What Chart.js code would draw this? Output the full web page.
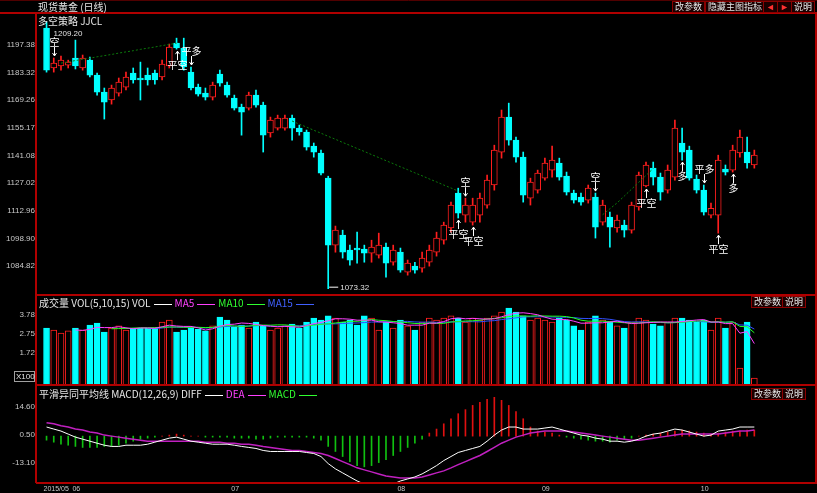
<!DOCTYPE html>
<html>
<head>
<meta charset="utf-8">
<script src="https://cdn.jsdelivr.net/npm/chart.js@4.4.1/dist/chart.umd.min.js"></script>
<style>
  html, body { margin:0; padding:0; background:#000; overflow:hidden; }
  #wrap { position:relative; width:817px; height:493px; }
  #c { position:absolute; left:0; top:0; }
  .t { position:absolute; color:#e6e6e6; font:10px "Noto Sans CJK SC", sans-serif; line-height:11px; white-space:nowrap; }
  .btn { position:absolute; height:10px; border:1px solid #8a0000; background:#1a0000; color:#e6e6e6;
         font:9px "Noto Sans CJK SC", sans-serif; line-height:10px; padding:0 2px; white-space:nowrap; }
  .seg { display:inline-block; width:18px; height:1px; vertical-align:middle; margin:0 3px; }
</style>
</head>
<body>
<div id="wrap">
  <canvas id="c" width="817" height="493"></canvas>
  <div class="t" style="left:38px;top:1px">现货黄金 (日线)</div>
  <div class="t" style="left:38px;top:15px">多空策略 JJCL</div>
  <div class="btn" style="left:672px;top:1px">改参数</div>
  <div class="btn" style="left:705px;top:1px">隐藏主图指标</div>
  <div class="btn" style="left:763px;top:1px;color:#ff3030">◄</div>
  <div class="btn" style="left:777px;top:1px;color:#ff3030">►</div>
  <div class="btn" style="left:791px;top:1px">说明</div>

  <div class="t" style="left:39px;top:297px">成交量 VOL(5,10,15) VOL<span class="seg" style="background:#fff"></span><span style="color:#ff40ff">MA5</span><span class="seg" style="background:#ff40ff"></span><span style="color:#30ff30">MA10</span><span class="seg" style="background:#30ff30"></span><span style="color:#4060ff">MA15</span><span class="seg" style="background:#4060ff"></span></div>
  <div class="btn" style="left:751px;top:296px">改参数</div>
  <div class="btn" style="left:782px;top:296px">说明</div>

  <div class="t" style="left:39px;top:388px">平滑异同平均线 MACD(12,26,9) DIFF<span class="seg" style="background:#fff"></span><span style="color:#ff40ff">DEA</span><span class="seg" style="background:#ff40ff"></span><span style="color:#30ff30">MACD</span><span class="seg" style="background:#30ff30"></span></div>
  <div class="btn" style="left:751px;top:388px">改参数</div>
  <div class="btn" style="left:782px;top:388px">说明</div>
</div>
<script>
// daily candles
const OPEN  = [1206.0,1185.7,1186.7,1187.2,1190.8,1185.7,1189.7,1182.1,1173.4,1169.4,
               1172.9,1176.0,1183.1,1180.6,1182.1,1183.1,1181.1,1186.7,1198.4,1195.9,
               1183.6,1176.0,1172.9,1170.9,1182.6,1177.0,1170.4,1165.8,1165.3,1171.9,
               1166.8,1152.6,1155.1,1155.1,1160.2,1155.1,1153.1,1145.9,1142.4,1129.6,
               1095.5,1100.6,1093.0,1094.0,1093.5,1091.4,1090.4,1094.5,1086.8,1091.9,
               1081.7,1084.8,1083.8,1086.8,1091.9,1098.0,1104.2,1122.0,1110.8,1107.2,
               1110.8,1115.9,1126.1,1142.9,1160.7,1149.0,1140.3,1119.4,1123.5,1129.6,
               1133.7,1137.3,1130.6,1122.0,1120.0,1118.4,1120.0,1107.2,1109.8,1104.2,
               1105.7,1103.1,1114.9,1125.6,1134.7,1130.1,1123.5,1130.1,1147.5,1143.9,
               1129.1,1123.5,1110.8,1110.8,1134.2,1133.7,1142.4,1142.9,1136.3];
const HIGH  = [1209.2,1190.8,1191.8,1189.7,1199.9,1192.3,1191.3,1183.1,1175.5,1177.0,
               1180.6,1183.6,1185.7,1188.7,1185.7,1184.6,1189.7,1197.9,1200.9,1200.9,
               1186.2,1177.5,1175.5,1178.5,1184.6,1178.5,1171.9,1167.3,1173.4,1174.5,
               1168.3,1160.7,1161.7,1161.7,1161.7,1156.6,1154.1,1147.5,1143.9,1130.6,
               1105.2,1103.1,1095.5,1102.1,1095.5,1098.0,1101.6,1096.5,1095.5,1094.0,
               1087.9,1086.8,1091.9,1095.5,1102.1,1107.2,1117.4,1124.5,1119.4,1119.4,
               1122.0,1131.2,1146.4,1164.3,1167.8,1150.5,1142.9,1129.6,1133.7,1139.8,
               1145.9,1139.8,1132.7,1123.5,1122.0,1126.1,1122.0,1118.4,1112.3,1110.8,
               1108.2,1117.4,1132.7,1137.8,1137.8,1132.2,1136.3,1159.2,1155.1,1145.9,
               1131.2,1126.1,1116.9,1141.3,1136.3,1146.4,1154.1,1150.5,1143.9];
const LOW   = [1183.6,1183.6,1184.6,1185.7,1185.2,1184.6,1181.1,1171.9,1159.7,1167.3,
               1171.4,1174.5,1178.0,1169.4,1177.0,1177.5,1179.6,1185.7,1195.3,1184.6,
               1174.5,1171.4,1169.4,1169.4,1176.5,1170.9,1164.3,1151.5,1164.3,1165.8,
               1142.9,1150.5,1154.1,1154.1,1149.0,1151.5,1143.9,1140.3,1131.2,1073.32,
               1091.9,1088.9,1085.3,1086.3,1086.8,1086.8,1088.9,1079.2,1085.3,1081.7,
               1080.2,1081.2,1081.7,1084.8,1089.9,1096.0,1102.1,1109.3,1107.2,1105.7,
               1107.2,1114.3,1123.5,1139.8,1146.4,1137.8,1117.4,1115.9,1122.0,1128.6,
               1130.1,1128.6,1121.0,1116.9,1115.9,1116.9,1099.1,1105.7,1094.5,1102.1,
               1099.6,1101.6,1113.3,1125.1,1126.1,1118.4,1122.0,1128.6,1138.8,1128.6,
               1122.0,1110.8,1109.3,1101.6,1131.2,1132.7,1140.3,1134.7,1134.7];
const CLOSE = [1184.6,1188.2,1189.7,1188.7,1186.7,1190.8,1182.1,1173.4,1168.3,1175.5,
               1178.5,1181.1,1179.6,1179.6,1179.6,1179.6,1187.7,1196.4,1195.9,1186.2,
               1175.5,1172.4,1170.9,1177.0,1178.0,1171.9,1165.3,1163.2,1171.9,1166.8,
               1151.5,1159.2,1160.2,1160.2,1155.1,1153.1,1145.4,1142.9,1132.2,1095.5,
               1103.1,1091.9,1087.9,1093.0,1091.4,1094.5,1095.5,1086.3,1093.0,1082.8,
               1086.3,1082.8,1088.9,1093.0,1099.1,1105.7,1115.9,1111.8,1115.9,1115.9,
               1119.4,1128.6,1143.9,1160.7,1149.0,1140.3,1121.0,1127.6,1132.2,1137.3,
               1138.8,1130.1,1122.5,1118.4,1117.4,1124.5,1104.7,1115.9,1104.7,1108.2,
               1103.1,1115.9,1131.2,1136.3,1130.1,1122.5,1133.7,1155.1,1142.9,1129.6,
               1123.5,1112.3,1114.3,1138.8,1132.7,1143.9,1150.5,1137.3,1141.3];

// trading-system stop line (dotted), null where not drawn
const STOP_LINE = [null,null,1188.2,1188.8,1189.5,1190.1,1190.7,1191.4,1192.0,1192.6,
                   1193.3,1193.9,1194.5,1195.2,1195.8,1196.4,1197.1,1197.7,1198.3,null,
                   null,null,null,null,null,null,null,null,null,null,
                   null,null,null,null,1158.7,1157.1,1155.6,1154.0,1152.5,1150.9,
                   1149.4,1147.8,1146.3,1144.7,1143.2,1141.6,1140.1,1138.5,1137.0,1135.4,
                   1133.9,1132.3,1130.8,1129.2,1127.7,1126.1,1124.6,1123.0,null,null,
                   null,null,null,null,null,null,null,null,null,null,
                   null,null,null,null,null,null,null,1111.0,1114.0,1117.0,
                   1120.5,1124.0,1127.5,1131.0,1134.5,null,null,null,null,null,
                   null,null,null,null,null,null,null,null,null];

const VOLUME = [3.08,2.97,2.81,2.92,3.08,2.97,3.24,3.35,2.86,3.08,
                3.19,2.97,3.08,3.08,3.08,3.08,3.40,3.51,2.86,2.97,
                3.08,3.02,2.92,3.19,3.67,3.51,3.13,3.24,3.08,3.40,
                3.19,2.97,3.08,3.19,3.29,3.08,3.40,3.62,3.51,3.73,
                3.62,3.40,3.51,3.24,3.73,3.62,2.97,3.40,3.08,3.51,
                3.19,2.97,3.40,3.62,3.51,3.62,3.73,3.62,3.40,3.62,
                3.51,3.62,3.73,3.94,4.16,3.94,3.73,3.51,3.62,3.51,
                3.40,3.62,3.51,3.19,2.97,3.40,3.73,3.51,3.40,3.19,
                3.08,3.40,3.62,3.51,3.29,3.19,3.40,3.62,3.62,3.51,
                3.40,3.51,2.97,3.62,3.08,3.40,0.92,3.40,0.38];

const DIFF = [4.5,3.5,2.5,1.0,-0.5,-1.5,-2.5,-3.5,-4.5,-5.1,
              -5.1,-4.5,-4.5,-4.5,-4.0,-3.0,-2.0,-1.0,-0.5,-1.5,
              -2.5,-3.0,-3.5,-4.0,-4.0,-4.0,-4.5,-5.1,-5.6,-6.1,
              -7.1,-7.6,-7.6,-7.6,-7.6,-7.6,-8.1,-8.6,-10.1,-13.6,
              -16.2,-18.2,-20.2,-22.2,-23.7,-24.7,-25.3,-24.7,-23.7,-22.2,
              -21.2,-20.2,-18.7,-16.7,-14.6,-12.1,-10.1,-8.1,-7.1,-6.1,
              -5.1,-2.5,0.5,3.0,4.5,4.5,3.5,3.5,3.5,4.0,
              4.5,3.5,2.5,1.5,0.5,0,-1.0,-1.5,-2.5,-2.5,
              -3.0,-2.5,-1.5,0,1.0,1.5,2.5,3.5,3.0,2.0,
              1.0,0,0.5,2.5,3.0,3.5,4.5,4.5,4.5];
const DEA  = [6.6,6.1,5.1,4.5,3.5,3.0,2.0,1.5,0.5,0,
              -0.5,-1.0,-1.5,-2.0,-2.5,-2.5,-2.5,-2.5,-2.5,-2.5,
              -2.5,-2.5,-3.0,-3.0,-3.0,-3.5,-3.5,-4.0,-4.0,-4.5,
              -5.1,-5.6,-6.1,-6.6,-7.1,-7.1,-7.6,-8.1,-8.6,-9.6,
              -11.1,-12.6,-14.1,-15.7,-16.7,-17.7,-18.7,-19.7,-20.2,-20.7,
              -20.7,-20.7,-20.2,-19.2,-18.2,-17.2,-15.7,-14.1,-12.6,-11.1,
              -9.6,-7.6,-5.6,-3.5,-2.0,-0.5,0.5,1.5,2.0,2.5,
              2.5,2.5,2.5,2.0,1.5,1.0,0.5,0,-0.5,-1.0,
              -1.5,-2.0,-2.0,-1.5,-1.0,-0.5,0,0.5,1.0,1.0,
              1.0,1.0,1.0,1.0,1.5,2.0,2.5,2.5,3.0];
const MACD = [-2.0,-3.0,-4.0,-4.5,-5.1,-5.6,-5.6,-5.6,-5.1,-5.1,
              -4.5,-3.5,-2.5,-1.5,-1.0,-0.5,0,0.5,1.0,0.5,
              0,0,-0.5,-0.5,-0.5,-0.5,-1.0,-1.0,-1.0,-1.5,
              -1.5,-1.0,-0.5,-0.5,-0.5,-0.5,-0.5,-1.0,-2.0,-5.1,
              -7.6,-10.1,-12.6,-14.6,-15.2,-14.6,-13.1,-11.6,-9.6,-7.6,
              -5.6,-3.5,-1.5,1.5,3.5,6.1,8.6,11.1,13.1,15.2,
              16.7,18.2,19.2,17.7,15.2,12.1,8.6,4.5,2.5,2.0,
              1.5,0.5,-0.5,-1.0,-1.5,-2.0,-2.5,-2.5,-3.0,-2.0,
              -1.5,-1.0,0,0.5,1.0,1.5,2.0,2.5,3.0,2.5,
              2.0,1.5,1.0,1.5,2.0,2.5,2.5,3.0,3.0];

// axis labels
const PRICE_TICKS = [1197.38,1183.32,1169.26,1155.17,1141.08,1127.02,1112.96,1098.90,1084.82];
const VOL_TICKS   = [3.78,2.75,1.72];
const MACD_TICKS  = [14.60,0.50,-13.10];
const MONTH_STARTS = [0,4,26,49,69,91];
const MONTH_LABELS = ['2015/05','06','07','08','09','10'];

// buy / sell markers: candle index, text, side of candle
const SIGNALS = [
  {i:1,  text:'空',   side:'above'},
  {i:18, text:'平空', side:'below'},
  {i:20, text:'平多', side:'above'},
  {i:58, text:'空',   side:'above'},
  {i:57, text:'平空', side:'below'},
  {i:59, text:'平空', side:'below'},
  {i:76, text:'空',   side:'above'},
  {i:83, text:'平空', side:'below'},
  {i:88, text:'多',   side:'below'},
  {i:91, text:'平多', side:'above'},
  {i:93, text:'平空', side:'below'},
  {i:95, text:'多',   side:'below'},
];

const RED = '#ff1e1e', CYAN = '#00ffff', MAGENTA = '#ff40ff', GREEN = '#20ff20', BLUE = '#3050ff';
const isUp = i => CLOSE[i] >= OPEN[i];
const idx = CLOSE.map((_, i) => i);

function ma(arr, n) {
  return arr.map((_, i) => {
    if (i < n - 1) return null;
    let s = 0;
    for (let k = i - n + 1; k <= i; k++) s += arr[k];
    return s / n;
  });
}

const fixed = (arr) => (scale) => { scale.ticks = arr.map(v => ({value:v})); };
// stacked panes: the last one declared ends up on top
const yAxis = (weight, min, max, ticks) => ({
  type:'linear', position:'left', stack:'panes', stackWeight:weight, min, max,
  grid:{display:false, drawTicks:false}, border:{display:false},
  ticks:{color:'#c8c8c8', font:{family:'Liberation Sans', size:8}, padding:2, autoSkip:false,
         callback:v => Number(v).toFixed(2)},
  afterBuildTicks: fixed(ticks),
  afterFit: s => { s.width = 37; }
});

const frame = {
  id:'frame',
  afterDraw(chart) {
    const {ctx, chartArea:a, scales} = chart;
    ctx.save();
    ctx.strokeStyle = '#b00000';
    ctx.lineWidth = 2;
    ctx.beginPath();
    ctx.moveTo(0, 13); ctx.lineTo(chart.width, 13);
    ctx.moveTo(a.left - 1, 13); ctx.lineTo(a.left - 1, a.bottom);
    ctx.moveTo(a.right + 1, 13); ctx.lineTo(a.right + 1, a.bottom);
    [scales.yv.top, scales.ym.top, a.bottom].forEach(y => { ctx.moveTo(a.left - 1, y); ctx.lineTo(chart.width, y); });
    ctx.stroke();
    ctx.strokeStyle = '#500000'; ctx.lineWidth = 1;
    ctx.beginPath(); ctx.moveTo(0, 0.5); ctx.lineTo(chart.width, 0.5); ctx.stroke();
    ctx.restore();
  }
};

const marks = {
  id:'marks',
  afterDatasetsDraw(chart) {
    const {ctx, scales:{x, y}} = chart;
    ctx.save();
    ctx.fillStyle = '#ffffff';
    ctx.strokeStyle = '#ffffff';
    ctx.lineWidth = 1;
    ctx.font = '10px "Noto Sans CJK SC"';
    ctx.textAlign = 'center';
    SIGNALS.forEach(s => {
      const px = Math.round(x.getPixelForValue(s.i)) + 0.5;
      if (s.side === 'below') {
        const py = y.getPixelForValue(LOW[s.i]);
        ctx.beginPath(); ctx.moveTo(px, py + 2); ctx.lineTo(px, py + 11); ctx.stroke();
        ctx.beginPath(); ctx.moveTo(px - 2, py + 5); ctx.lineTo(px, py + 2); ctx.lineTo(px + 2, py + 5); ctx.stroke();
        ctx.textBaseline = 'top';
        ctx.fillText(s.text, px, py + 11);
      } else {
        const py = y.getPixelForValue(HIGH[s.i]);
        ctx.beginPath(); ctx.moveTo(px, py - 2); ctx.lineTo(px, py - 11); ctx.stroke();
        ctx.beginPath(); ctx.moveTo(px - 2, py - 5); ctx.lineTo(px, py - 2); ctx.lineTo(px + 2, py - 5); ctx.stroke();
        ctx.textBaseline = 'bottom';
        ctx.fillText(s.text, px, py - 11);
      }
    });
    // highest / lowest price labels
    ctx.font = '8px "Liberation Sans"';
    ctx.textAlign = 'left';
    ctx.textBaseline = 'middle';
    ctx.fillStyle = '#e0e0e0';
    const hi = Math.max(...HIGH), lo = Math.min(...LOW);
    const hiI = HIGH.indexOf(hi), loI = LOW.indexOf(lo);
    ctx.fillText(hi.toFixed(2), x.getPixelForValue(hiI) + 7, y.getPixelForValue(hi) + 12);
    const lx = x.getPixelForValue(loI), ly = y.getPixelForValue(lo);
    ctx.beginPath(); ctx.moveTo(lx + 1, ly - 1.5); ctx.lineTo(lx + 10, ly - 1.5); ctx.stroke();
    ctx.fillText(lo.toFixed(2), lx + 12, ly - 1);
    // volume unit box
    const v = chart.scales.yv;
    ctx.strokeStyle = '#a0a0a0';
    ctx.strokeRect(14.5, v.bottom - 13.5, 20, 10);
    ctx.fillText('X100', 16, v.bottom - 8);
    ctx.restore();
  }
};

new Chart(document.getElementById('c'), {
  data: {
    datasets: [
      { type:'bar', label:'wick', yAxisID:'y', grouped:false, order:5,
        data: idx.map(i => ({x:i, y:[LOW[i], HIGH[i]]})),
        backgroundColor: idx.map(i => isUp(i) ? RED : CYAN),
        barThickness:1 },
      { type:'bar', label:'body', yAxisID:'y', grouped:false, order:4,
        data: idx.map(i => ({x:i, y:[OPEN[i], CLOSE[i]]})),
        backgroundColor: idx.map(i => isUp(i) ? '#000' : CYAN),
        borderColor: idx.map(i => isUp(i) ? RED : CYAN),
        borderWidth:1, borderSkipped:false, minBarLength:1, barThickness:6 },
      { type:'line', label:'stop', yAxisID:'y', order:3,
        data: idx.map(i => ({x:i, y:STOP_LINE[i]})),
        borderColor:'#0b7a0b', borderWidth:1, borderDash:[2,2], pointRadius:0, spanGaps:false },
      { type:'bar', label:'VOL', yAxisID:'yv', grouped:false, order:5,
        data: idx.map(i => ({x:i, y:VOLUME[i]})),
        backgroundColor: idx.map(i => isUp(i) ? '#000' : CYAN),
        borderColor: idx.map(i => isUp(i) ? RED : CYAN),
        borderWidth:1, borderSkipped:'start', barThickness:6 },
      { type:'line', label:'MA5', yAxisID:'yv', order:1, data: ma(VOLUME, 5).map((v, i) => ({x:i, y:v})),
        borderColor:MAGENTA, borderWidth:1, pointRadius:0 },
      { type:'line', label:'MA10', yAxisID:'yv', order:1, data: ma(VOLUME, 10).map((v, i) => ({x:i, y:v})),
        borderColor:GREEN, borderWidth:1, pointRadius:0 },
      { type:'line', label:'MA15', yAxisID:'yv', order:1, data: ma(VOLUME, 15).map((v, i) => ({x:i, y:v})),
        borderColor:BLUE, borderWidth:1, pointRadius:0 },
      { type:'bar', label:'MACD', yAxisID:'ym', grouped:false, order:5,
        data: idx.map(i => ({x:i, y:MACD[i]})),
        backgroundColor: idx.map(i => MACD[i] >= 0 ? '#e01010' : '#10c010'),
        barThickness:1 },
      { type:'line', label:'DIFF', yAxisID:'ym', order:1, data: idx.map(i => ({x:i, y:DIFF[i]})),
        borderColor:'#ffffff', borderWidth:1, pointRadius:0 },
      { type:'line', label:'DEA', yAxisID:'ym', order:2, data: idx.map(i => ({x:i, y:DEA[i]})),
        borderColor:'#c020c0', borderWidth:1.5, pointRadius:0 },
    ]
  },
  options: {
    responsive:false, animation:false, devicePixelRatio:1,
    layout:{ padding:{top:14, right:2, left:0, bottom:0} },
    plugins:{ legend:{display:false}, tooltip:{enabled:false} },
    scales: {
      x: { type:'linear', offset:false, min:-1.32, max:106.4, grid:{display:false, drawTicks:false}, border:{display:false},
           ticks:{ color:'#c8c8c8', font:{family:'Liberation Sans', size:7}, align:'start', padding:2, labelOffset:-3,
                   maxRotation:0, autoSkip:false, callback:(v, k) => MONTH_LABELS[k] },
           afterBuildTicks: fixed(MONTH_STARTS),
           afterFit: s => { s.height = 10; } },
      ym: yAxis(98, -23.2, 25.3, MACD_TICKS),
      yv: yAxis(90, 0, 4.86, VOL_TICKS),
      y:  yAxis(281, 1070.1, 1213.2, PRICE_TICKS),
    }
  },
  plugins:[frame, marks]
});
</script>
</body>
</html>
